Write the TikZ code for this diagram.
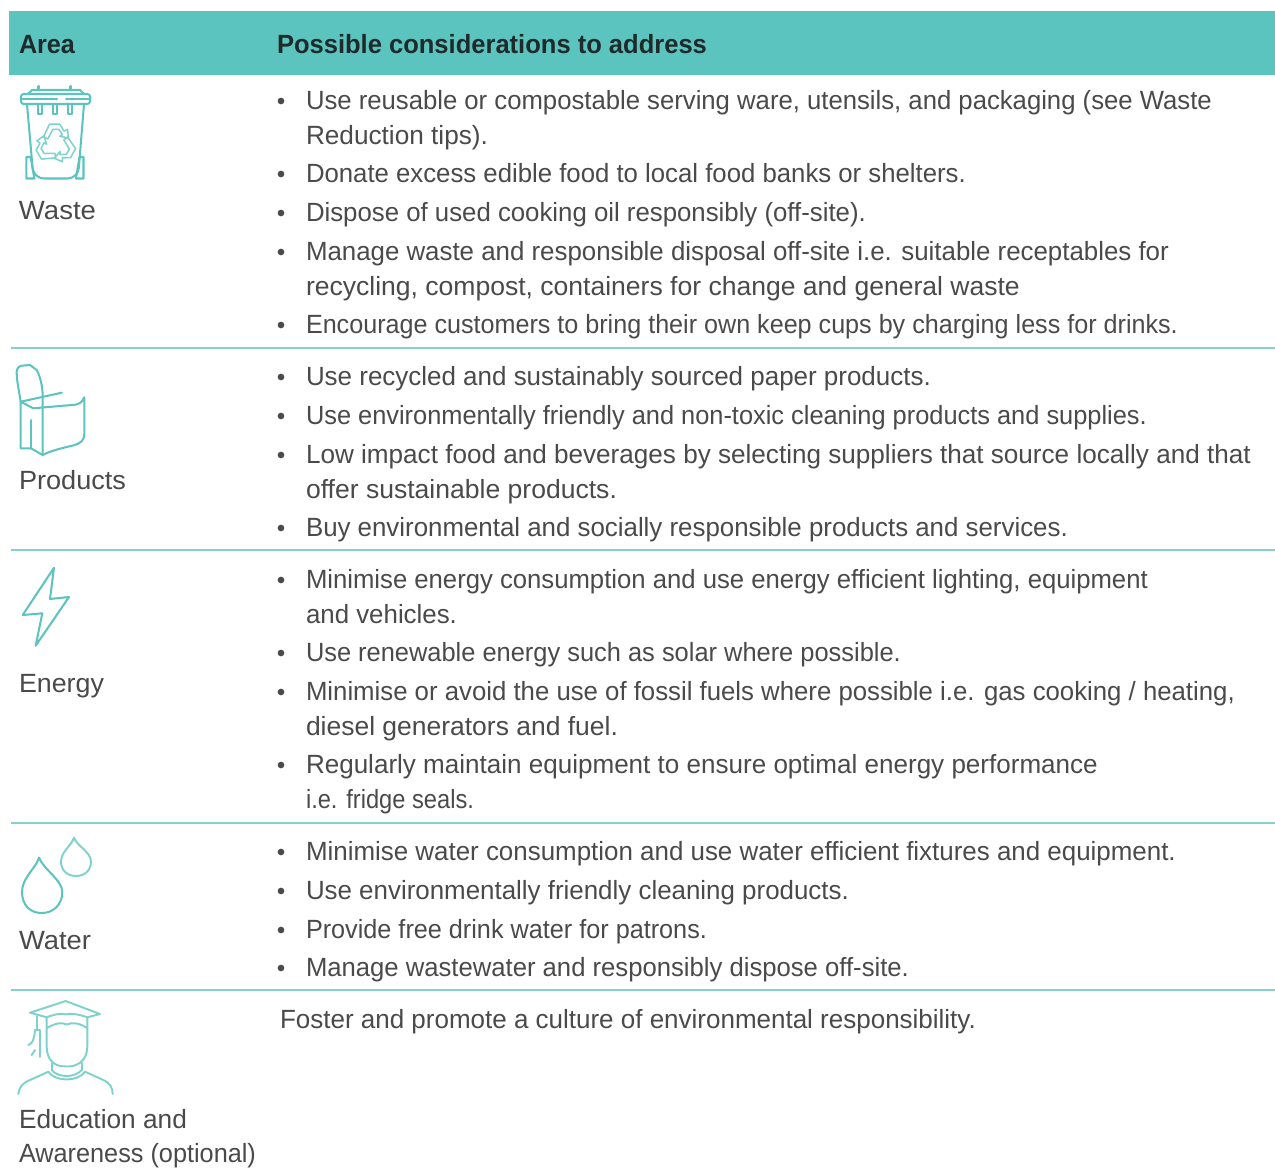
\documentclass[tikz,border=0pt]{standalone}
\usepackage{fontspec}
\usepackage{graphicx}
\setmainfont{Liberation Sans}
\definecolor{teal1}{HTML}{5BC4BF}
\definecolor{rule1}{HTML}{84D0CB}
\definecolor{ink}{HTML}{4A4A4A}
\definecolor{headink}{HTML}{1F2A2A}
\definecolor{drop2}{HTML}{7FD2CC}
\tikzset{
  txt/.style={anchor=base west,inner sep=0pt,outer sep=0pt,text=ink,font=\fontsize{15}{18}\selectfont},
  head/.style={txt,text=headink,font=\fontsize{15}{18}\selectfont\bfseries},
  rowrule/.style={draw=rule1,line width=0.6pt},
  icon/.style={draw=teal1,line width=1.15pt,line join=round,line cap=round},
  iconsoft/.style={icon,draw=drop2,line width=1.1pt},
  iconthin/.style={icon,draw=drop2,line width=0.85pt},
  bulletdot/.style={circle,fill=ink,inner sep=0pt,minimum size=3.8pt},
}
\newsavebox\fitbox
% style, name, x, baseline y, right end x, text: the line is fitted to the measured width
\newcommand\fitline[6][txt]{%
  \node[#1] (#2) at (#3,#4) {\sbox\fitbox{#6}%
    \pgfmathsetmacro\fitr{(#5-#3)*0.56906/\the\wd\fitbox}%
    \scalebox{\fitr}[1]{#6}};}
\newcommand\bul[2]{\node[bulletdot] (#1) at (281,#2) {};}
\begin{document}
\begin{tikzpicture}[x=0.02cm,y=-0.02cm]
\useasboundingbox (0,0) rectangle (1275,1170);
\fill[white] (0,0) rectangle (1275,1170);
\fill[teal1] (9,11) rectangle (1275,75);
\fitline[head]{hArea}{19}{53}{75}{Area}
\fitline[head]{hPoss}{277}{53}{707}{Possible considerations to address}
% rules
\coordinate (r1a) at (11,348); \coordinate (r1b) at (1275,348);
\coordinate (r2a) at (11,550); \coordinate (r2b) at (1275,550);
\coordinate (r3a) at (11,823); \coordinate (r3b) at (1275,823);
\coordinate (r4a) at (11,990); \coordinate (r4b) at (1275,990);
\draw[rowrule] (r1a)--(r1b);
\draw[rowrule] (r2a)--(r2b);
\draw[rowrule] (r3a)--(r3b);
\draw[rowrule] (r4a)--(r4b);
% area labels
\fitline{aWaste}{19}{219}{96}{Waste}
\fitline{aProd}{19}{489}{126}{Products}
\fitline{aEnergy}{19}{692}{104}{Energy}
\fitline{aWater}{19}{949}{91}{Water}
\fitline{aEdu}{19}{1128}{187}{Education and}
\fitline{aAware}{19}{1162}{256}{Awareness (optional)}
% waste
\bul{b1}{101}\bul{b2}{174}\bul{b3}{213}\bul{b4}{252}\bul{b5}{325}
\fitline{t1}{306}{109}{1212}{Use reusable or compostable serving ware, utensils, and packaging (see Waste}
\fitline{t2}{306}{144}{488}{Reduction tips).}
\fitline{t3}{306}{182}{966}{Donate excess edible food to local food banks or shelters.}
\fitline{t4}{306}{221}{866}{Dispose of used cooking oil responsibly (off-site).}
\fitline{t5}{306}{260}{1169}{Manage waste and responsible disposal off-site i.e. suitable receptables for}
\fitline{t6}{306}{295}{1020}{recycling, compost, containers for change and general waste}
\fitline{t7}{306}{333}{1178}{Encourage customers to bring their own keep cups by charging less for drinks.}
% products
\bul{b6}{377}\bul{b7}{416}\bul{b8}{455}\bul{b9}{528}
\fitline{t8}{306}{385}{931}{Use recycled and sustainably sourced paper products.}
\fitline{t9}{306}{424}{1147}{Use environmentally friendly and non-toxic cleaning products and supplies.}
\fitline{t10}{306}{463}{1251}{Low impact food and beverages by selecting suppliers that source locally and that}
\fitline{t11}{306}{498}{617}{offer sustainable products.}
\fitline{t12}{306}{536}{1068}{Buy environmental and socially responsible products and services.}
% energy
\bul{b10}{580}\bul{b11}{653}\bul{b12}{692}\bul{b13}{765}
\fitline{t13}{306}{588}{1148}{Minimise energy consumption and use energy efficient lighting, equipment}
\fitline{t14}{306}{623}{457}{and vehicles.}
\fitline{t15}{306}{661}{901}{Use renewable energy such as solar where possible.}
\fitline{t16}{306}{700}{1235}{Minimise or avoid the use of fossil fuels where possible i.e. gas cooking / heating,}
\fitline{t17}{306}{735}{618}{diesel generators and fuel.}
\fitline{t18}{306}{773}{1098}{Regularly maintain equipment to ensure optimal energy performance}
\fitline{t19}{306}{808}{474}{i.e. fridge seals.}
% water
\bul{b14}{852}\bul{b15}{891}\bul{b16}{930}\bul{b17}{968}
\fitline{t20}{306}{860}{1176}{Minimise water consumption and use water efficient fixtures and equipment.}
\fitline{t21}{306}{899}{849}{Use environmentally friendly cleaning products.}
\fitline{t22}{306}{938}{707}{Provide free drink water for patrons.}
\fitline{t23}{306}{976}{909}{Manage wastewater and responsibly dispose off-site.}
% education
\fitline{t24}{280}{1028}{976}{Foster and promote a culture of environmental responsibility.}
% bin icon
\draw[icon,rounded corners=1.5pt] (21,94) rectangle (90,104);
\draw[icon] (28,94)--(32,90)--(80,90)--(84,94);
\draw[icon] (38.5,86)--(38.5,90) (70.5,86)--(70.5,90);
\draw[icon] (22,99)--(57,99) (66,99)--(89,99);
\draw[icon,rounded corners=6pt] (27,104)--(33.5,178.5)--(78,178.5)--(84,104);
\draw[icon] (34.5,178.5)--(26.3,178.5)--(26.3,157)--(30.7,157)--(34.3,178.5);
\draw[icon] (76,178.5)--(83.5,178.5)--(83.5,157)--(79.5,157)--(76,178.5);
\foreach \sx in {40,55,70}{\draw[icon] (\sx-2,104)--(\sx-2,114)--(\sx+2,114)--(\sx+2,104);}
\begin{scope}[shift={(55.5,144)},scale=0.86]
\foreach \ra in {0,120,240}{
\draw[iconthin,rotate=\ra] (-14,-8)--(-7,-23)--(5,-23)--(10,-15)--(14,-17)--(15,-7)--(5,-9)--(8,-11)--(4,-17)--(-3,-17)--(-9,-6)--cycle;}
\end{scope}
% chair icon
\draw[icon] (20.7,401.7)..controls (18,385) and (16.7,380) .. (16.7,371.7)
  ..controls (17,367) and (20,366) .. (21.7,365.7)--(30,365)--(36.7,370)
  ..controls (41,378) and (42.7,388) .. (42.7,397)--(42.7,455);
\draw[icon] (20.7,401.7)--(61.7,392.7);
\draw[icon] (20.7,401.7)--(20.7,448.3)--(31,448.3)--(42.7,455)
  ..controls (50,451) and (62,448) .. (73,445.5)
  ..controls (80,443.5) and (84.3,441) .. (84.3,434)--(84.3,397.3)
  ..controls (82,403) and (78,405) .. (71.7,405)--(33.3,408.3)--(20.7,401.7);
\draw[icon] (31,420)--(31,448.3);
% bolt
\draw[icon] (54,567.7)--(50,599)--(69,597)--(35.7,645.7)--(42.3,613.3)--(22.7,615)--cycle;
% drops
\draw[icon] (39,857.7)..controls (36,868) and (22,878) .. (22,891.7)
  ..controls (22,905) and (30,913) .. (41.7,913)
  ..controls (54,913) and (62.3,904) .. (62.3,892)
  ..controls (62.3,880) and (44,870) .. (39,857.7)--cycle;
\draw[iconsoft] (74,837.7)..controls (71,846) and (61,852) .. (61,861.7)
  ..controls (61,870) and (67,876) .. (76,876)
  ..controls (85,876) and (91,870) .. (91,861.7)
  ..controls (91,852) and (77,846) .. (74,837.7)--cycle;
% graduate
\draw[iconsoft] (30,1012.7)--(65.7,1001)--(100,1014)--(87.3,1017.3)
  ..controls (78,1014) and (70,1013) .. (66,1014.5)
  ..controls (62,1013) and (55,1014) .. (46.7,1017.3)--cycle;
\draw[iconsoft] (46.7,1017.3)--(46.7,1028.3)
  ..controls (55,1023) and (62,1022) .. (66.7,1024.5)
  ..controls (72,1022) and (80,1023) .. (87.3,1028.3)--(87.3,1017.3);
\draw[iconsoft] (46.7,1028.3)--(46.7,1047)..controls (47,1058) and (52,1063) .. (57,1065)
  ..controls (62,1067) and (72,1067) .. (76,1065)
  ..controls (81,1063) and (87,1058) .. (87.3,1047)--(87.3,1028.3);
\draw[iconsoft] (51.7,1063)--(51.7,1070) (81.7,1063)--(81.7,1070);
\draw[iconsoft] (48.3,1071.7)..controls (55,1082) and (78,1082) .. (85,1071.7);
\draw[iconsoft] (51.7,1070)..controls (58,1078) and (75,1078) .. (81.7,1070);
\draw[iconsoft] (48.3,1071.7)--(30,1080)..controls (22,1083) and (19,1088) .. (18.3,1094);
\draw[iconsoft] (85,1071.7)--(103.3,1080)..controls (110,1083) and (112.7,1088) .. (112.7,1094);
\draw[iconsoft] (36.7,1016)--(36.7,1030);
\draw[iconsoft] (35,1030)--(40,1030)--(40,1057);
\draw[iconsoft] (35,1030)..controls (34,1040) and (33,1043) .. (28.3,1045);
\draw[iconsoft] (35,1050)--(31.7,1055);
\end{tikzpicture}
\end{document}
